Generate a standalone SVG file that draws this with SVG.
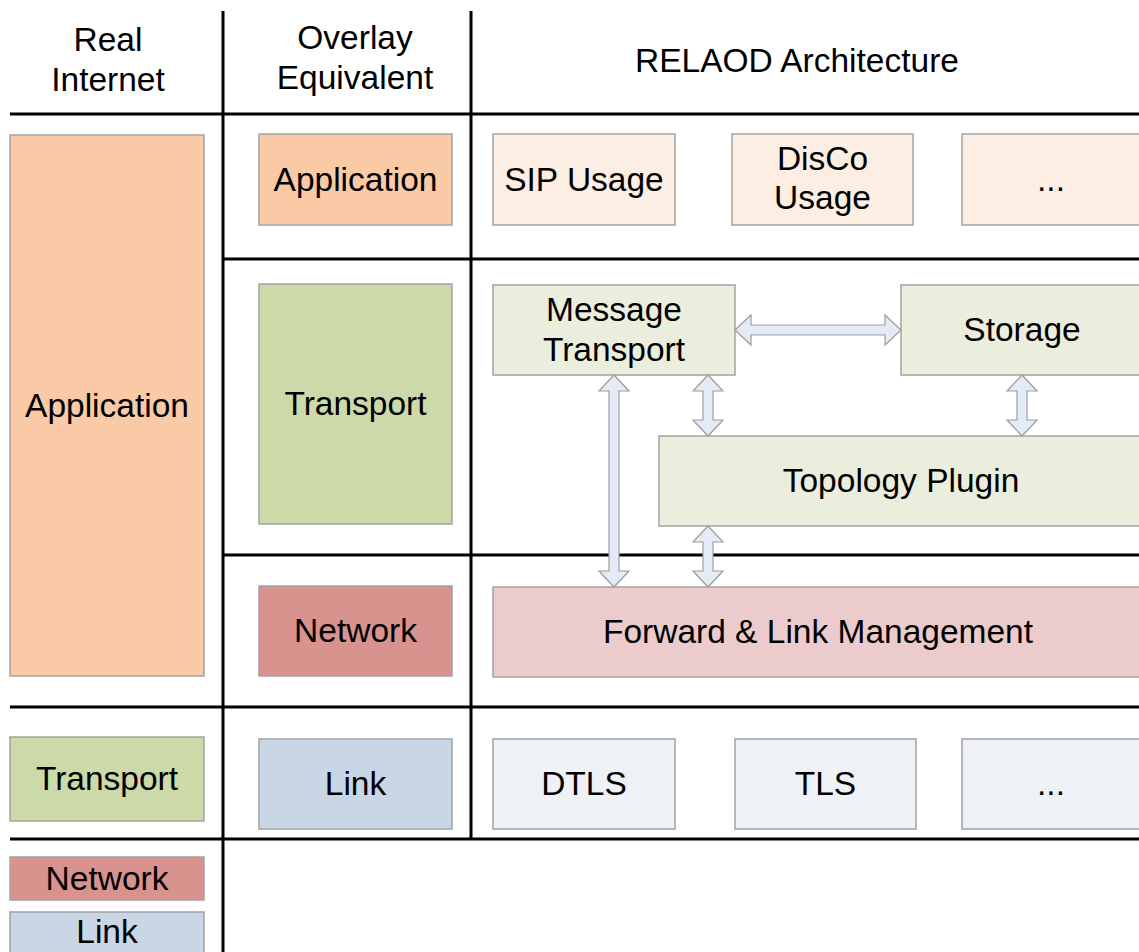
<svg xmlns="http://www.w3.org/2000/svg" width="1139" height="952" viewBox="0 0 1139 952">
<style>
text{font-family:"Liberation Sans",Arial,sans-serif;font-size:33.5px;fill:#000;text-anchor:middle}
.box{stroke:#a3a3a3;stroke-width:1.5}
.grid{stroke:#000;stroke-width:3;fill:none}
.arr{fill:#e3ebf6;stroke:#9d9d9d;stroke-width:1.2}
.app{fill:#f9caa5}.tra{fill:#ccdaa9}.net{fill:#d9938f}.lnk{fill:#c8d6e6}
.lapp{fill:#fdeee3}.ltra{fill:#ebeedd}.lnet{fill:#ebcbcb}.llnk{fill:#eef1f5}
</style>
<rect width="1139" height="952" fill="#fff"/>
<g id="grid">
<path class="grid" d="M223 11V952M471 11V839M10 114H1139M223 259H1139M223 555H1139M10 707H1139M10 839H1139"/>
</g>
<g id="headers">
<text x="108" y="51">Real</text>
<text x="108" y="91">Internet</text>
<text x="355" y="49">Overlay</text>
<text x="355" y="89">Equivalent</text>
<text x="797" y="72">RELAOD Architecture</text>
</g>
<g id="real-application"><rect class="box app" x="10" y="135" width="194" height="541"/><text x="107" y="417">Application</text></g>
<g id="real-transport"><rect class="box tra" x="10" y="737" width="194" height="84"/><text x="107" y="790">Transport</text></g>
<g id="real-network"><rect class="box net" x="10" y="857" width="194" height="43"/><text x="107" y="890">Network</text></g>
<g id="real-link"><rect class="box lnk" x="10" y="912" width="194" height="50"/><text x="107" y="943">Link</text></g>
<g id="ov-application"><rect class="box app" x="259" y="134" width="193" height="91"/><text x="355.5" y="191">Application</text></g>
<g id="ov-transport"><rect class="box tra" x="259" y="284" width="193" height="240"/><text x="355.5" y="415">Transport</text></g>
<g id="ov-network"><rect class="box net" x="259" y="586" width="193" height="90"/><text x="355.5" y="642">Network</text></g>
<g id="ov-link"><rect class="box lnk" x="259" y="739" width="193" height="90"/><text x="355.5" y="795">Link</text></g>
<g id="sip-usage"><rect class="box lapp" x="493" y="134" width="182" height="91"/><text x="584" y="191">SIP Usage</text></g>
<g id="disco-usage"><rect class="box lapp" x="732" y="134" width="181" height="91"/><text x="822.5" y="170">DisCo</text><text x="822.5" y="209">Usage</text></g>
<g id="usage-more"><rect class="box lapp" x="962" y="134" width="181" height="91"/><text x="1051" y="191">...</text></g>
<g id="message-transport"><rect class="box ltra" x="493" y="285" width="242" height="90"/><text x="614" y="321">Message</text><text x="614" y="361">Transport</text></g>
<g id="storage"><rect class="box ltra" x="901" y="285" width="242" height="90"/><text x="1022" y="341">Storage</text></g>
<g id="topology-plugin"><rect class="box ltra" x="659" y="436" width="484" height="90"/><text x="901" y="492">Topology Plugin</text></g>
<g id="forward-link"><rect class="box lnet" x="493" y="587" width="650" height="90"/><text x="818" y="643">Forward &amp; Link Management</text></g>
<g id="dtls"><rect class="box llnk" x="493" y="739" width="182" height="90"/><text x="584" y="795">DTLS</text></g>
<g id="tls"><rect class="box llnk" x="735" y="739" width="181" height="90"/><text x="825.5" y="795">TLS</text></g>
<g id="link-more"><rect class="box llnk" x="962" y="739" width="181" height="90"/><text x="1051" y="795">...</text></g>
<g id="connectors">
<polygon class="arr" points="735,330 751,315 751,325 885,325 885,315 901,330 885,345 885,335 751,335 751,345"/>
<polygon class="arr" points="614,375 629,391 619,391 619,571 629,571 614,587 599,571 609,571 609,391 599,391"/>
<polygon class="arr" points="708,375 723,391 713,391 713,420 723,420 708,436 693,420 703,420 703,391 693,391"/>
<polygon class="arr" points="708,526 723,542 713,542 713,571 723,571 708,587 693,571 703,571 703,542 693,542"/>
<polygon class="arr" points="1022,375 1037,391 1027,391 1027,420 1037,420 1022,436 1007,420 1017,420 1017,391 1007,391"/>
</g>
</svg>
